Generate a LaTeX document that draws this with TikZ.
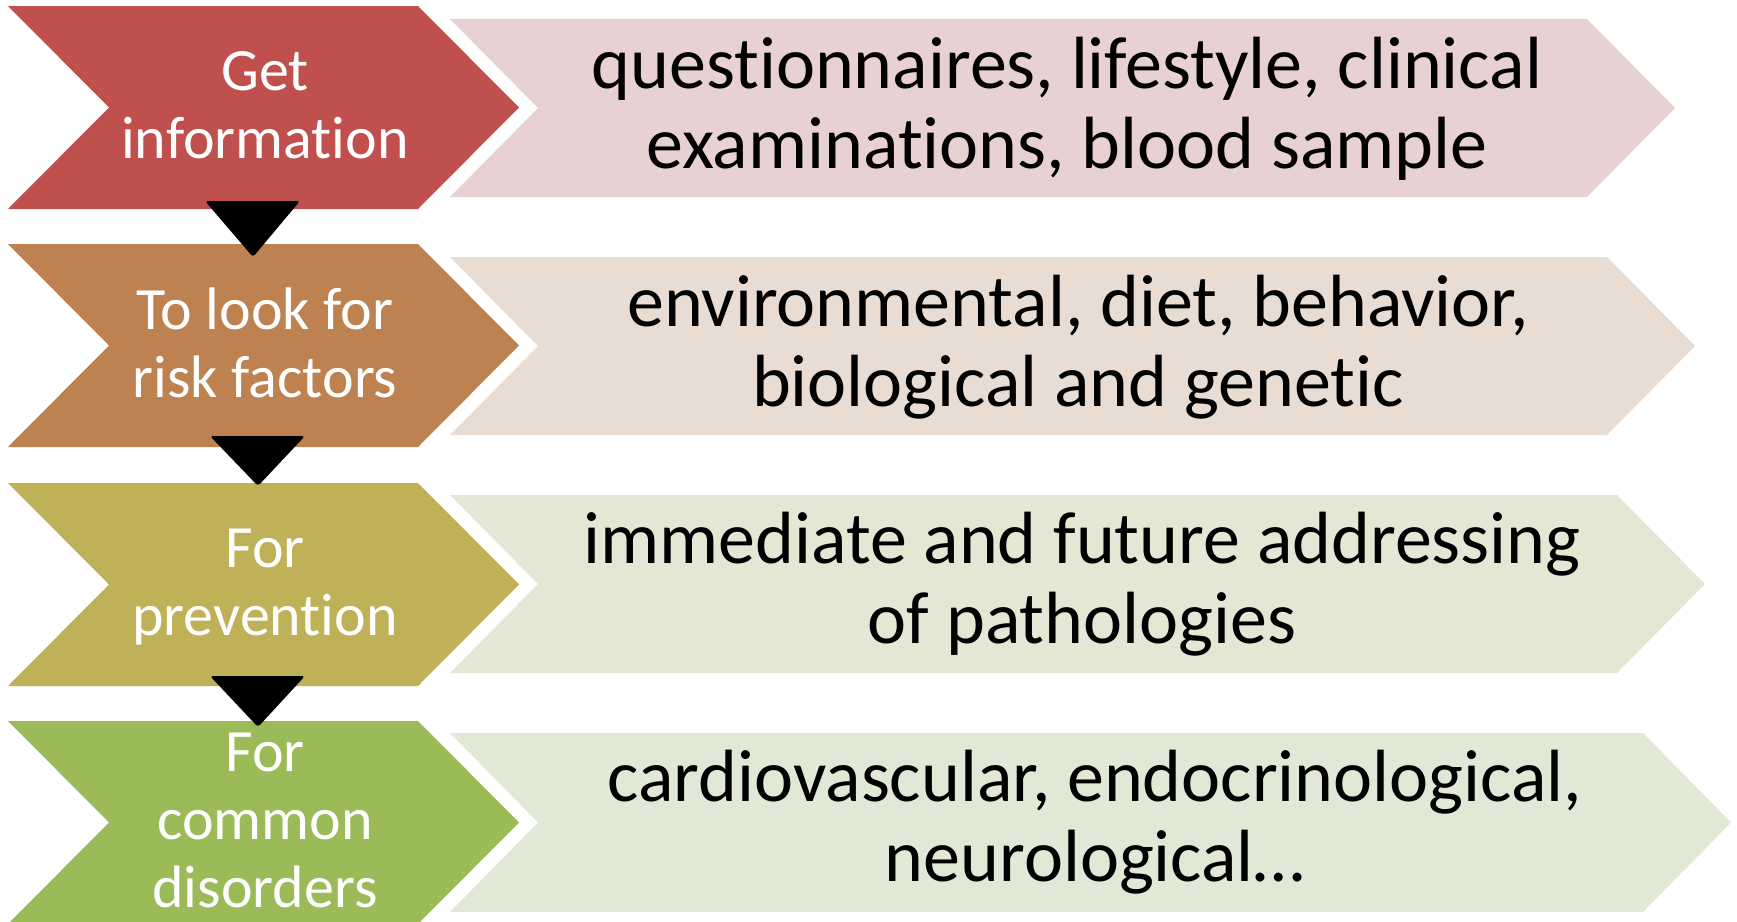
\documentclass[tikz,border=0pt]{standalone}
\usepackage{fontspec}
\setmainfont{Carlito}[Ligatures=NoCommon]
\definecolor{c1}{HTML}{C0504D}
\definecolor{c2}{HTML}{BE8150}
\definecolor{c3}{HTML}{BFB157}
\definecolor{c4}{HTML}{9BBB59}
\definecolor{p1}{HTML}{E8D1D2}
\definecolor{p2}{HTML}{E9DDD3}
\definecolor{p3}{HTML}{E6E6D5}
\definecolor{p4}{HTML}{E1E9D6}
\newcommand\mytopstrut{\rule{0pt}{60pt}}
\newcommand\mybotstrut{\rule[-60pt]{0pt}{60pt}}
\begin{document}
\begin{tikzpicture}[x=1pt,y=-1pt,
  lefttext/.style={text=white, align=center, inner sep=0pt, font=\fontsize{60}{68}\selectfont},
  righttext/.style={text=black, align=center, inner sep=0pt, font=\fontsize{74}{80}\selectfont},
  arrowtri/.style={fill=black, rounded corners=3pt}]
\useasboundingbox (0,0) rectangle (1737,921);
\fill[white] (0,0) rectangle (1737,921);
% left chevrons
\foreach \t/\b/\c in {6/209/c1, 244/447/c2, 483/686/c3, 721/924/c4}{
  \fill[\c] (8,\t) -- (109,{(\t+\b)/2}) -- (8,\b) -- (418,\b) -- (519,{(\t+\b)/2}) -- (418,\t) -- cycle;
}
% right pale arrows
\foreach \t/\b/\r/\c in {19/197/1587/p1, 257/435/1607/p2, 495/673/1617/p3, 733/912/1643/p4}{
  \fill[\c] (450,\t) -- (538,{(\t+\b)/2}) -- (450,\b) -- (\r,\b) -- ({\r+88},{(\t+\b)/2}) -- (\r,\t) -- cycle;
}
% texts
\node[lefttext] (l1) at (265,124) {\mytopstrut Get\\information\mybotstrut};
\node[lefttext] (l2) at (265,363.5) {\mytopstrut To look for\\risk factors\mybotstrut};
\node[lefttext] (l3) at (265,601) {\mytopstrut For\\prevention\mybotstrut};
\node[lefttext] (l4) at (265,839.5) {\mytopstrut For\\common\\disorders\mybotstrut};
\node[righttext] (r1) at (1067,128) {\mytopstrut questionnaires, lifestyle, clinical\\examinations, blood sample\mybotstrut};
\node[righttext] (r2) at (1078,366) {\mytopstrut environmental, diet, behavior,\\biological and genetic\mybotstrut};
\node[righttext] (r3) at (1082,603.5) {\mytopstrut immediate and future addressing\\of pathologies\mybotstrut};
\node[righttext] (r4) at (1095,841) {\mytopstrut cardiovascular, endocrinological,\\neurological…\mybotstrut};
% black down triangles
\coordinate (t1a) at (205,201); \coordinate (t1b) at (300,201); \coordinate (t1c) at (253,257);
\coordinate (t2a) at (210,436); \coordinate (t2b) at (305,436); \coordinate (t2c) at (258,486);
\coordinate (t3a) at (210,676); \coordinate (t3b) at (305,676); \coordinate (t3c) at (258,727);
\fill[arrowtri] (t1a) -- (t1b) -- (t1c) -- cycle;
\fill[arrowtri] (t2a) -- (t2b) -- (t2c) -- cycle;
\fill[arrowtri] (t3a) -- (t3b) -- (t3c) -- cycle;
\end{tikzpicture}
\end{document}
